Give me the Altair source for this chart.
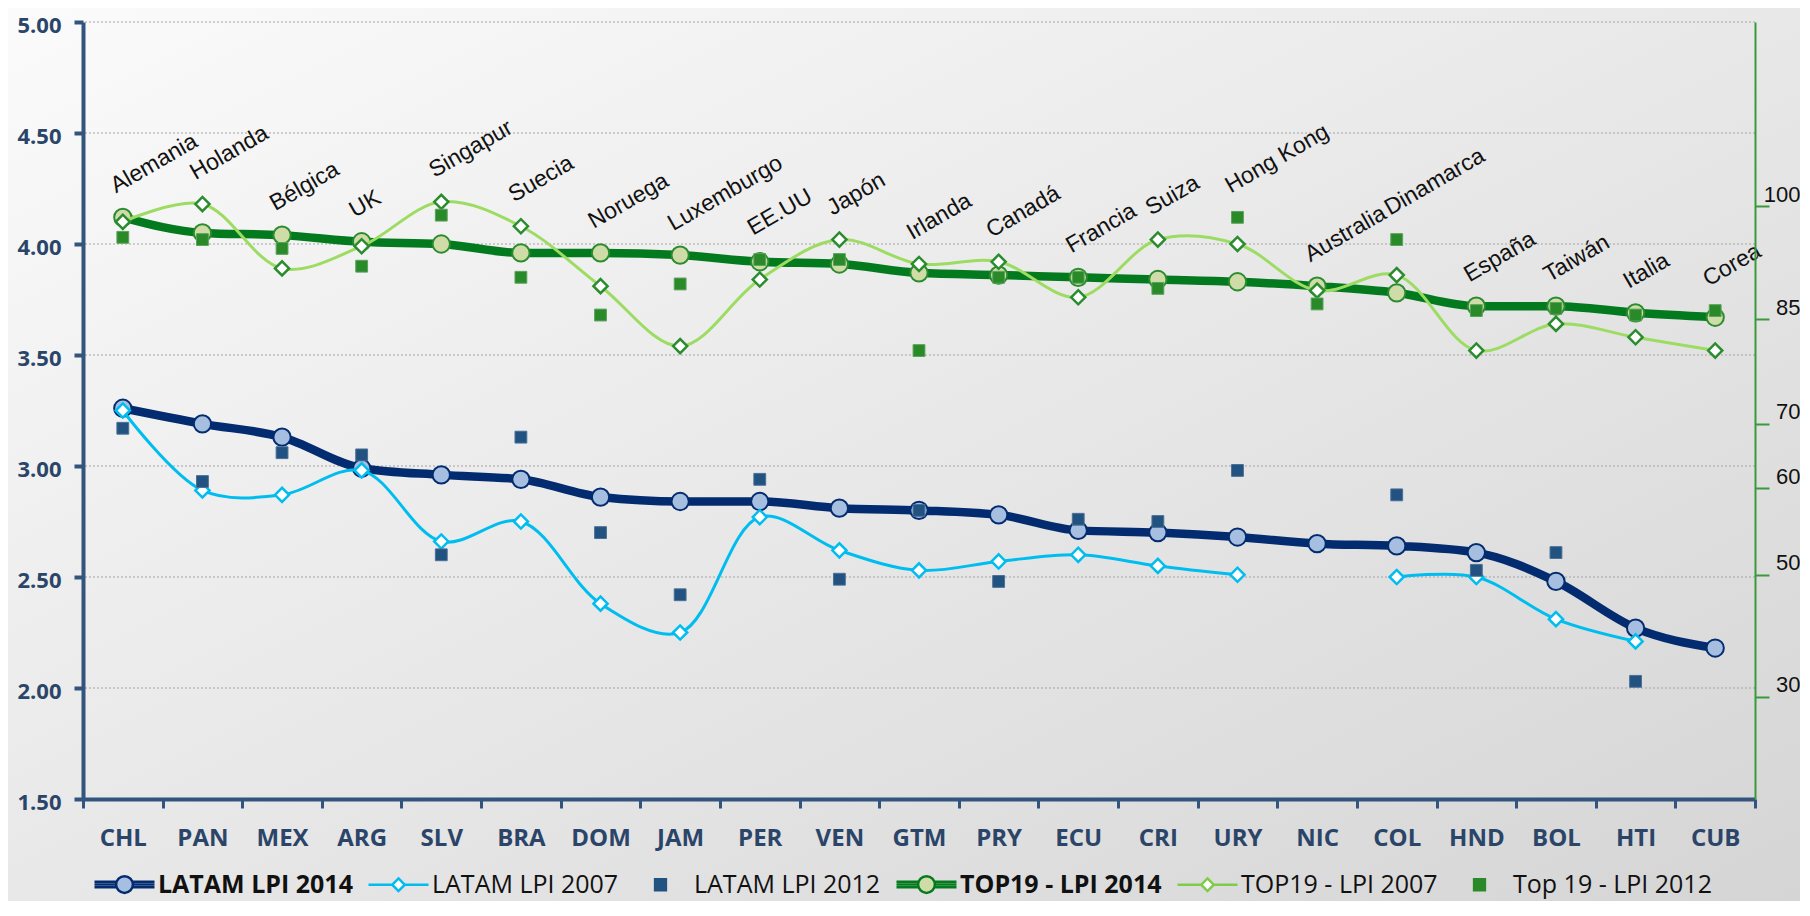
import altair as alt
import pandas as pd

# ---------------- data ----------------
countries = ["CHL", "PAN", "MEX", "ARG", "SLV", "BRA", "DOM", "JAM", "PER", "VEN", "GTM",
             "PRY", "ECU", "CRI", "URY", "NIC", "COL", "HND", "BOL", "HTI", "CUB"]
top19_names = ["Alemania", "Holanda", "Bélgica", "UK", "Singapur", "Suecia", "Noruega",
               "Luxemburgo", "EE.UU", "Japón", "Irlanda", "Canadá", "Francia", "Suiza",
               "Hong Kong", "Australia", "Dinamarca", "España", "Taiwán", "Italia", "Corea"]

latam_2014 = [3.26, 3.19, 3.13, 2.99, 2.96, 2.94, 2.86, 2.84, 2.84, 2.81, 2.80,
              2.78, 2.71, 2.70, 2.68, 2.65, 2.64, 2.61, 2.48, 2.27, 2.18]
latam_2007 = [3.25, 2.89, 2.87, 2.98, 2.66, 2.75, 2.38, 2.25, 2.77, 2.62, 2.53,
              2.57, 2.60, 2.55, 2.51, None, 2.50, 2.50, 2.31, 2.21, None]
latam_2012 = [3.17, 2.93, 3.06, 3.05, 2.60, 3.13, 2.70, 2.42, 2.94, 2.49, 2.80,
              2.48, 2.76, 2.75, 2.98, None, 2.87, 2.53, 2.61, 2.03, None]
top_2014 = [4.12, 4.05, 4.04, 4.01, 4.00, 3.96, 3.96, 3.95, 3.92, 3.91, 3.87,
            3.86, 3.85, 3.84, 3.83, 3.81, 3.78, 3.72, 3.72, 3.69, 3.67]
top_2007 = [4.10, 4.18, 3.89, 3.99, 4.19, 4.08, 3.81, 3.54, 3.84, 4.02, 3.91,
            3.92, 3.76, 4.02, 4.00, 3.79, 3.86, 3.52, 3.64, 3.58, 3.52]
top_2012 = [4.03, 4.02, 3.98, 3.90, 4.13, 3.85, 3.68, 3.82, 3.93, 3.93, 3.52,
            3.85, 3.85, 3.80, 4.12, 3.73, 4.02, 3.70, 3.71, 3.68, 3.70]

series_names = ["LATAM LPI 2014", "LATAM LPI 2007", "LATAM LPI 2012",
                "TOP19 - LPI 2014", "TOP19 - LPI 2007", "Top 19 - LPI 2012"]

left_ticks = [1.5, 2.0, 2.5, 3.0, 3.5, 4.0, 4.5, 5.0]
grid_ticks = [2.0, 2.5, 3.0, 3.5, 4.0, 4.5, 5.0]
right_tick_labels = ["100", "85", "70", "60", "50", "30"]
right_tick_at = [4.17, 3.66, 3.19, 2.90, 2.51, 1.96]

# ---------------- styling ----------------
W, H = 1672, 777
PAD_L, PAD_T, PAD_R, PAD_B = 75, 14, 45, 102

NAVY = "#032c70"
NAVY_FILL = "#a6bfe0"
CYAN = "#00bdf0"
DKBLUE_SQ = "#22527f"
GREEN = "#047a1e"
GREEN_FILL = "#cfdca8"
GREEN_EDGE = "#2a8c2e"
LTGREEN = "#9ddc62"
GREEN_SQ = "#2a8a2a"
AXIS_BLUE = "#33557d"
LABEL_BLUE = "#2b4569"


def series_frame(vals):
    rows = []
    seg = 0
    prev_none = False
    for c, v in zip(countries, vals):
        if v is None:
            prev_none = True
            continue
        if prev_none:
            seg += 1
            prev_none = False
        rows.append({"country": c, "value": v, "seg": seg})
    return pd.DataFrame(rows)


df_l14 = series_frame(latam_2014)
df_l07 = series_frame(latam_2007)
df_l12 = series_frame(latam_2012)
df_t14 = series_frame(top_2014)
df_t07 = series_frame(top_2007)
df_t12 = series_frame(top_2012)

anchor = [max(a, b, c) for a, b, c in zip(top_2014, top_2007, top_2012)]
df_lab = pd.DataFrame({"country": countries, "name": top19_names, "value": anchor})

yscale = alt.Scale(domain=[1.5, 5.0], nice=False, zero=False)
xscale = alt.Scale(type="band", domain=countries, paddingInner=0, paddingOuter=0)

x_axis = alt.Axis(orient="bottom", title=None, labelAngle=0, labelFont="Open Sans",
                  labelFontWeight="bold", labelFontSize=24, labelColor=LABEL_BLUE,
                  labelPadding=18, domainColor=AXIS_BLUE, domainWidth=4,
                  tickColor=AXIS_BLUE, tickWidth=3, tickSize=9, tickBand="extent",
                  grid=False, zindex=1)

X = alt.X("country:N", scale=xscale, axis=x_axis, bandPosition=0.5)

left_axis = alt.Axis(orient="left", title=None, values=left_ticks, format=".2f",
                     labelFont="Open Sans", labelFontWeight="bold", labelFontSize=22,
                     labelColor=LABEL_BLUE, labelPadding=13, labelOffset=3,
                     domainColor=AXIS_BLUE, domainWidth=4, tickColor=AXIS_BLUE,
                     tickWidth=4, tickSize=9, grid=False, zindex=1)

label_expr = ""
for pos, lab in zip(right_tick_at, right_tick_labels):
    label_expr += f"abs(datum.value - {pos}) < 0.001 ? '{lab}' : "
label_expr += "''"

right_axis = alt.Axis(orient="right", title=None, values=right_tick_at, labelExpr=label_expr,
                      labelFont="Liberation Sans", labelFontSize=22, labelColor="#111111",
                      labelAlign="right", labelBaseline="bottom", labelPadding=31,
                      domainColor="#3a9a3a", domainWidth=2, tickColor="#3a9a3a",
                      tickWidth=2, tickSize=14, grid=False, zindex=1)

Y_left = alt.Y("value:Q", scale=yscale, axis=left_axis)
Y_right = alt.Y("value:Q", scale=yscale, axis=right_axis)
Yn = alt.Y("value:Q", scale=yscale, axis=None)

# background gradient (decoration only)
bg = alt.Chart(pd.DataFrame({"k": [0]})).mark_rect(
    fill=alt.LinearGradient(gradient="linear", x1=0, y1=0, x2=1, y2=1,
                            stops=[alt.GradientStop(offset=0, color="#fbfbfb"),
                                   alt.GradientStop(offset=1, color="#d5d5d5")]),
    clip=False
).encode(x=alt.value(-PAD_L), x2=alt.value(W + PAD_R),
         y=alt.value(-PAD_T), y2=alt.value(H + PAD_B))

grid = alt.Chart(pd.DataFrame({"value": grid_ticks})).mark_rule(
    color="#a3a3a3", strokeWidth=1, strokeDash=[2, 2]).encode(y=Yn)

line_l14 = alt.Chart(df_l14).mark_line(color=NAVY, strokeWidth=8.5, interpolate="monotone").encode(
    x=X, y=Y_left, detail="seg:N")
pts_l14 = alt.Chart(df_l14).mark_point(shape="circle", filled=True, fill=NAVY_FILL, stroke=NAVY,
                                       strokeWidth=2, size=300, opacity=1).encode(x=X, y=Yn)
line_l07 = alt.Chart(df_l07).mark_line(color=CYAN, strokeWidth=3, interpolate="catmull-rom").encode(
    x=X, y=Yn, detail="seg:N")
pts_l07 = alt.Chart(df_l07).mark_point(shape="diamond", filled=True, fill="white", stroke=CYAN,
                                       strokeWidth=2.5, size=200, opacity=1).encode(x=X, y=Yn)
sq_l12 = alt.Chart(df_l12).mark_point(shape="square", filled=True, fill=DKBLUE_SQ, stroke="#4a7099",
                                      strokeWidth=1, size=140, opacity=1).encode(x=X, y=Yn)
line_t14 = alt.Chart(df_t14).mark_line(color=GREEN, strokeWidth=8.5, interpolate="monotone").encode(
    x=X, y=Y_right, detail="seg:N")
pts_t14 = alt.Chart(df_t14).mark_point(shape="circle", filled=True, fill=GREEN_FILL, stroke=GREEN_EDGE,
                                       strokeWidth=2, size=300, opacity=1).encode(x=X, y=Yn)
line_t07 = alt.Chart(df_t07).mark_line(color=LTGREEN, strokeWidth=3, interpolate="catmull-rom").encode(
    x=X, y=Yn, detail="seg:N")
pts_t07 = alt.Chart(df_t07).mark_point(shape="diamond", filled=True, fill="white", stroke=GREEN_EDGE,
                                       strokeWidth=2.5, size=200, opacity=1).encode(x=X, y=Yn)
sq_t12 = alt.Chart(df_t12).mark_point(shape="square", filled=True, fill=GREEN_SQ, stroke="#5aa35a",
                                      strokeWidth=1, size=140, opacity=1).encode(x=X, y=Yn)

labels = alt.Chart(df_lab).mark_text(angle=330, align="left", baseline="alphabetic",
                                     font="Liberation Sans", fontSize=23, color="#111111",
                                     dx=6, dy=-24).encode(x=X, y=Yn, text="name:N")

# legend (line + marker symbols)
thick_l = "M-1,-0.09L-0.28,-0.09M-1,0L-0.28,0M-1,0.09L-0.28,0.09M0.28,-0.09L1,-0.09M0.28,0L1,0M0.28,0.09L1,0.09"
circ = "M0.28,0A0.28,0.28,0,1,1,-0.28,0A0.28,0.28,0,1,1,0.28,0Z"
thin_l = "M-1,0L-0.21,0M0.21,0L1,0"
diam = "M0,-0.21L0.21,0L0,0.21L-0.21,0Z"
sq = "M-0.18,-0.18L0.18,-0.18L0.18,0.18L-0.18,0.18Z"
shape_range = [thick_l + circ, thin_l + diam, sq, thick_l + circ, thin_l + diam, sq]
fill_range = [NAVY_FILL, "white", DKBLUE_SQ, GREEN_FILL, "white", GREEN_SQ]
stroke_range = [NAVY, CYAN, DKBLUE_SQ, GREEN, "#7fcc4a", GREEN_SQ]

legend = alt.Legend(orient="none", legendX=10, legendY=831, direction="horizontal", columns=6,
                    title=None, symbolSize=3600, symbolStrokeWidth=2.5, symbolOpacity=1,
                    labelFont="Open Sans", labelFontSize=25, labelColor="#111111",
                    labelFontWeight=alt.ExprRef(expr="indexof(datum.label, '2014') >= 0 ? 'bold' : 'normal'"),
                    labelOffset=2, columnPadding=10, labelLimit=400, zindex=1)

df_leg = pd.DataFrame({"series": series_names, "country": ["CHL"] * 6, "value": [1.5] * 6})
leg = alt.Chart(df_leg).mark_point(opacity=0, filled=True).encode(
    x=X, y=Yn,
    shape=alt.Shape("series:N", scale=alt.Scale(domain=series_names, range=shape_range), legend=legend),
    fill=alt.Fill("series:N", scale=alt.Scale(domain=series_names, range=fill_range), legend=legend),
    stroke=alt.Stroke("series:N", scale=alt.Scale(domain=series_names, range=stroke_range), legend=legend),
)

chart = alt.layer(
    bg, grid, line_l14, pts_l14, line_l07, pts_l07, sq_l12,
    line_t14, pts_t14, line_t07, pts_t07, sq_t12, labels, leg
).resolve_axis(y="independent").properties(
    width=W, height=H,
    autosize=alt.AutoSizeParams(type="none"),
    padding={"left": PAD_L, "top": PAD_T, "right": PAD_R, "bottom": PAD_B},
    background="#e8e8e8",
).configure_view(stroke="transparent")

chart.save("out.html", embed_options={"renderer": "svg", "actions": False})
